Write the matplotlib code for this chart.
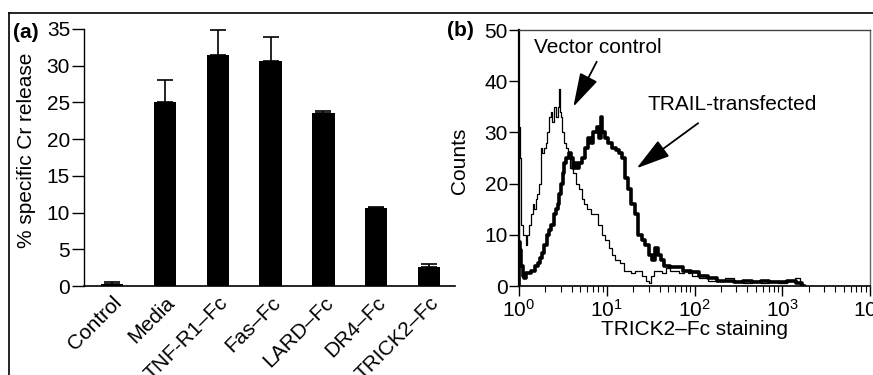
import numpy as np
import matplotlib
matplotlib.use("Agg")
import matplotlib.pyplot as plt
from matplotlib.lines import Line2D
from matplotlib.ticker import LogLocator, LogFormatterSciNotation

plt.rcParams['font.family'] = ['Liberation Sans', 'DejaVu Sans']
plt.rcParams['mathtext.fontset'] = 'custom'
plt.rcParams['mathtext.rm'] = 'Liberation Sans'
plt.rcParams['mathtext.it'] = 'Liberation Sans:italic'
plt.rcParams['mathtext.default'] = 'regular'

FS = 15

# panel (a): chromium release
groups = ["Control", "Media", "TNF-R1\u2013Fc", "Fas\u2013Fc", "LARD\u2013Fc", "DR4\u2013Fc", "TRICK2\u2013Fc"]
release = [0.3, 25.1, 31.5, 30.6, 23.5, 10.6, 2.6]
release_err = [0.2, 3.0, 3.3, 3.3, 0.4, 0.2, 0.4]

# panel (b): flow histograms, log10 of fluorescence vs counts
vec_log = [0.000, 0.008, 0.018, 0.03, 0.06, 0.088, 0.105, 0.125, 0.15, 0.17, 0.182, 0.20, 0.22,
           0.24, 0.258, 0.275, 0.296, 0.315, 0.334, 0.35, 0.372, 0.39, 0.41, 0.43, 0.45, 0.46,
           0.475, 0.486, 0.50, 0.52, 0.543, 0.57, 0.60, 0.638, 0.665, 0.695, 0.73, 0.76, 0.80,
           0.847, 0.88, 0.923, 0.96, 0.999, 1.04, 1.075, 1.12, 1.17, 1.227, 1.26, 1.30, 1.34,
           1.379, 1.43, 1.47, 1.49, 1.52, 1.56, 1.607, 1.65, 1.70, 1.75, 1.80, 1.85, 1.90, 1.95,
           2.0, 2.1, 2.2, 2.3, 2.4, 2.5, 2.6, 2.7, 2.8, 2.9, 3.0, 3.1, 3.18, 3.22]
vec_counts = [0, 31, 25, 12, 10, 8, 10, 12, 14, 16, 15, 17, 18,
              20, 27, 26, 27, 28, 30, 33, 34, 32, 35, 33, 35, 38.5,
              34, 33, 30, 28, 27, 25, 23, 22, 20, 19, 17, 16, 15,
              14, 14, 12, 10, 9, 7.5, 6, 5, 4.5, 3, 3, 2.5, 3,
              3, 2, 1.0, 0.5, 2, 3, 3, 2.5, 3.5, 3, 3, 2.5, 3, 2.5,
              2, 1.5, 1, 1, 1.5, 1, 0.5, 1, 0.5, 1, 0.5, 1, 1.5, 0]

trail_log = [0.000, 0.005, 0.02, 0.035, 0.05, 0.068, 0.09, 0.12, 0.163, 0.20, 0.23, 0.255, 0.277,
             0.30, 0.334, 0.36, 0.38, 0.41, 0.43, 0.45, 0.47, 0.49, 0.505, 0.53, 0.55, 0.581,
             0.60, 0.62, 0.645, 0.676, 0.70, 0.73, 0.771, 0.80, 0.83, 0.866, 0.90, 0.93, 0.942,
             0.96, 0.99, 1.037, 1.08, 1.12, 1.151, 1.19, 1.227, 1.26, 1.303, 1.34, 1.379, 1.42,
             1.46, 1.493, 1.53, 1.569, 1.60, 1.63, 1.683, 1.75, 1.82, 1.911, 2.0, 2.1, 2.2, 2.3,
             2.4, 2.5, 2.6, 2.7, 2.8, 2.9, 3.0, 3.1, 3.2, 3.25]
trail_counts = [0, 8.5, 7, 4, 2, 1.5, 2.5, 2.5, 3, 4, 4.5, 5.5, 6.5,
                8, 10, 11, 12, 14, 15, 16, 18, 20, 22, 24, 25, 26,
                25, 23, 24, 23, 24, 25, 27, 29, 28, 30, 31, 29, 33,
                30, 29, 28, 27, 26.5, 26, 25, 21, 19, 16, 14, 10, 9,
                8, 6, 5, 7.5, 6, 5, 4, 3.8, 3.7, 3, 2.8, 2, 1.5, 1,
                1, 0.8, 1, 0.8, 1, 0.8, 0.8, 1, 0.5, 0]

fig = plt.figure(figsize=(8.73, 3.75), dpi=100)

# outer frame lines (top and left)
fig.add_artist(Line2D([9/873, 1], [1 - 13/375, 1 - 13/375], color='k', lw=1.2))
fig.add_artist(Line2D([9/873, 9/873], [0, 1 - 13/375], color='k', lw=1.2))

# ---- (a) ----
ax1 = fig.add_axes([84/873, 1 - 286/375, 371/873, 257/375])
xpos = np.arange(len(groups))
ax1.bar(xpos, release, width=0.42, color='k', zorder=2)
ax1.errorbar(xpos, release, yerr=[np.zeros(len(release_err)), release_err], fmt='none',
             ecolor='k', elinewidth=1.2, capsize=6, capthick=1.2, zorder=1)
ax1.set_xlim(-0.53, 6.49)
ax1.set_ylim(0, 35)
ax1.set_yticks(np.arange(0, 36, 5))
ax1.set_xticks(xpos)
ax1.set_xticklabels(groups, rotation=45, ha='right', rotation_mode='anchor', fontsize=FS)
ax1.tick_params(axis='x', length=0, pad=5)
ax1.tick_params(axis='y', direction='out', length=9, width=1, labelsize=FS, pad=1)
for s in ['top', 'right']:
    ax1.spines[s].set_visible(False)
ax1.spines['left'].set_linewidth(1.0)
ax1.spines['bottom'].set_linewidth(1.2)
fig.text(27/873, 1 - 150/375, "% specific Cr release", rotation=90, ha='center', va='center', fontsize=FS)
fig.text(13/873, 1 - 32/375, "(a)", fontweight='bold', fontsize=FS, ha='left', va='center')

# ---- (b) ----
ax2 = fig.add_axes([519/873, 1 - 286/375, 351/873, 256/375])
ax2.plot(np.power(10, vec_log), vec_counts, color='k', lw=0.9, drawstyle='steps-mid')
ax2.plot(np.power(10, trail_log), trail_counts, color='k', lw=2.6, drawstyle='steps-mid')
ax2.set_xscale('log')
ax2.set_xlim(1, 1e4)
ax2.set_ylim(0, 50)
ax2.set_yticks(np.arange(0, 51, 10))
ax2.xaxis.set_major_locator(LogLocator(base=10, numticks=10))
ax2.xaxis.set_minor_locator(LogLocator(base=10, subs=np.arange(2, 10), numticks=50))
ax2.xaxis.set_major_formatter(LogFormatterSciNotation())
ax2.tick_params(axis='both', which='major', direction='out', length=7, width=1, labelsize=FS, pad=1)
ax2.tick_params(axis='x', which='major', pad=2)
ax2.tick_params(axis='x', which='minor', direction='out', length=4, width=0.8)
ax2.spines['left'].set_linewidth(1.6)
ax2.spines['bottom'].set_linewidth(1.2)
ax2.spines['top'].set_color('#444444')
ax2.spines['right'].set_color('#666666')
ax2.spines['top'].set_linewidth(1.0)
ax2.spines['right'].set_linewidth(1.0)
ax2.set_xlabel("TRICK2\u2013Fc staining", fontsize=FS, labelpad=0)
fig.text(460/873, 1 - 161/375, "Counts", rotation=90, ha='center', va='center', fontsize=FS)
fig.text(447/873, 1 - 30/375, "(b)", fontweight='bold', fontsize=FS, ha='left', va='center')

ax2.text(7.9, 46.5, "Vector control", fontsize=FS, ha='center', va='center')
ax2.text(270, 35.4, "TRAIL-transfected", fontsize=FS, ha='center', va='center')
arrow = dict(arrowstyle='-|>,head_length=1.05,head_width=0.3', mutation_scale=20,
             lw=1.3, color='k', shrinkA=0, shrinkB=0)
ax2.annotate('', xy=(4.16, 35.0), xytext=(7.68, 43.8), arrowprops=arrow)
ax2.annotate('', xy=(21.9, 23.0), xytext=(110, 31.8), arrowprops=arrow)

fig.savefig("out.png", dpi=100)
